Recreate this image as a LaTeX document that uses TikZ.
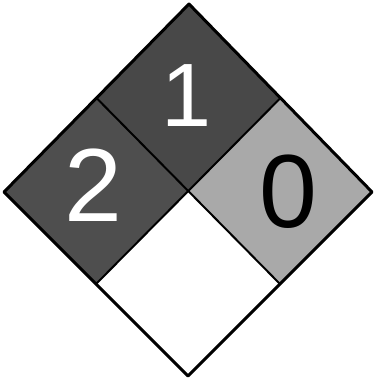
\documentclass[tikz,border=0pt]{standalone}
\usepackage{fontspec}
\setmainfont{Liberation Sans}
\usetikzlibrary{calc}
\definecolor{hdark}{HTML}{4E4E4E}
\definecolor{htop}{HTML}{484848}
\definecolor{hlight}{HTML}{A9A9A9}
\tikzset{
  quad/.style={draw=black, line width=2pt, line join=round},
  digit/.style={inner sep=0pt, anchor=center},
}
\begin{document}
\begin{tikzpicture}[x=1pt,y=-1pt]
\useasboundingbox (0,0) rectangle (374,381);
\coordinate (T) at (189,4);
\coordinate (L) at (4,192);
\coordinate (R) at (372,192);
\coordinate (B) at (188,376);
\coordinate (C) at (189,192);
\coordinate (TL) at ($(T)!0.5!(L)$);
\coordinate (TR) at ($(T)!0.5!(R)$);
\coordinate (BL) at ($(B)!0.5!(L)$);
\coordinate (BR) at ($(B)!0.5!(R)$);
\fill[hdark] (L) -- (TL) -- (C) -- (BL) -- cycle;
\fill[htop] (TL) -- (T) -- (TR) -- (C) -- cycle;
\fill[hlight] (C) -- (TR) -- (R) -- (BR) -- cycle;
\fill[white] (BL) -- (C) -- (BR) -- (B) -- cycle;
\draw[quad] (TL) -- (BR);
\draw[quad] (TR) -- (BL);
\draw[quad, line width=3pt] (T) -- (R) -- (B) -- (L) -- cycle;
\node[digit, text=white] (n1) at (187,96) {\fontsize{90}{90}\selectfont 1};
\node[digit, text=white] (n2) at (93,185) {\fontsize{104}{104}\selectfont 2};
\node[digit, text=black] (n0) at (288,192) {\fontsize{104}{104}\selectfont 0};
\end{tikzpicture}
\end{document}
